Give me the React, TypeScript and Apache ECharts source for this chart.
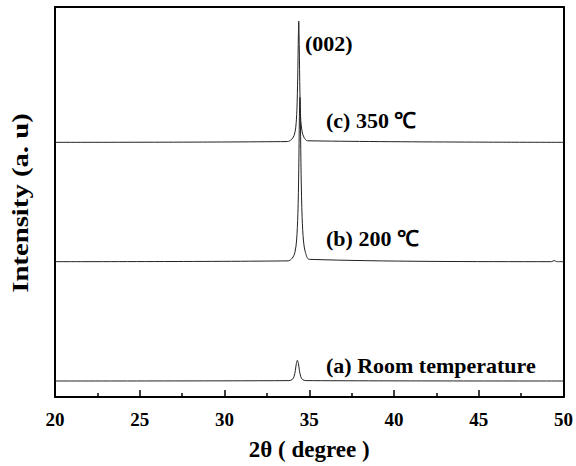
import React, { useEffect, useRef } from "react";
import * as echarts from "echarts";

const xTicks = [20, 25, 30, 35, 40, 45, 50];

const xA = [20, 33.8, 34.0, 34.1, 34.18, 34.24, 34.3, 34.36, 34.42, 34.5, 34.6, 34.8, 50];
const yA = [4.1, 4.2, 4.5, 5.2, 6.8, 8.6, 9.4, 8.6, 6.8, 5.2, 4.5, 4.2, 4.1];

const xB = [20, 33.75, 34.0, 34.15, 34.25, 34.33, 34.38, 34.42, 34.45, 34.48, 34.52, 34.58, 34.66, 34.78, 35.0, 49.3, 49.45, 49.6, 50];
const yB = [34.7, 34.9, 35.6, 37, 40, 47, 58, 72, 76.8, 70, 57, 46, 40, 37, 35.3, 34.7, 35.0, 34.7, 34.7];

const xC = [20, 33.7, 33.95, 34.1, 34.2, 34.27, 34.32, 34.36, 34.38, 34.41, 34.45, 34.5, 34.58, 34.7, 34.9, 50];
const yC = [65.3, 65.5, 66.0, 67.0, 69.0, 73.5, 82, 93, 96.4, 90, 78, 71, 68, 66.5, 65.7, 65.3];

const labels = ["(002)", "(c) 350 ℃", "(b) 200 ℃", "(a) Room temperature"];
const xName = "2θ ( degree )";
const yName = "Intensity (a. u)";

const FONT = "'Liberation Serif', 'Times New Roman', serif";

function pairs(xs: number[], ys: number[]) {
  return xs.map((x, i) => [x, ys[i]]);
}

export default function App() {
  const ref = useRef<HTMLDivElement>(null);
  useEffect(() => {
    if (!ref.current) return;
    const chart = echarts.init(ref.current, null, { renderer: "svg" });
    const lineStyle = { color: "#222", width: 1 };
    const mkSeries = (data: number[][]) => ({
      type: "line",
      data,
      showSymbol: false,
      symbol: "none",
      smooth: 0.3,
      lineStyle,
      xAxisIndex: 0,
      yAxisIndex: 0,
    });
    const ann = (x: number, y: number, text: string) => ({
      type: "text",
      x,
      y,
      style: {
        text,
        font: `bold 22px ${FONT}`,
        fill: "#000",
        align: "left",
        verticalAlign: "middle",
      },
    });
    chart.setOption({
      animation: false,
      backgroundColor: "#fff",
      grid: {
        left: 55,
        right: 12,
        top: 7,
        bottom: 67,
      },
      xAxis: [
        {
          type: "value",
          min: xTicks[0],
          max: xTicks[xTicks.length - 1],
          interval: 5,
          name: xName,
          nameLocation: "middle",
          nameGap: 41,
          nameTextStyle: { fontFamily: FONT, fontWeight: "bold", fontSize: 23, color: "#000" },
          axisLine: { show: true, lineStyle: { color: "#000", width: 2 } },
          axisTick: { show: true, inside: true, length: 7, lineStyle: { color: "#000", width: 1.5 } },
          minorTick: { show: true, splitNumber: 2, length: 4, lineStyle: { color: "#000", width: 1.5 } },
          axisLabel: { fontFamily: FONT, fontWeight: "bold", fontSize: 19, color: "#000", margin: 13 },
          splitLine: { show: false },
        },
        {
          type: "value",
          position: "top",
          min: xTicks[0],
          max: xTicks[xTicks.length - 1],
          axisLine: { show: true, onZero: false, lineStyle: { color: "#000", width: 2 } },
          axisTick: { show: false },
          axisLabel: { show: false },
          splitLine: { show: false },
        },
      ],
      yAxis: [
        {
          type: "value",
          min: 0,
          max: 100,
          axisLine: { show: true, onZero: false, lineStyle: { color: "#000", width: 2 } },
          axisTick: { show: false },
          axisLabel: { show: false },
          splitLine: { show: false },
        },
        {
          type: "value",
          position: "right",
          min: 0,
          max: 100,
          axisLine: { show: true, onZero: false, lineStyle: { color: "#000", width: 2 } },
          axisTick: { show: false },
          axisLabel: { show: false },
          splitLine: { show: false },
        },
      ],
      series: [
        mkSeries(pairs(xA, yA)),
        mkSeries(pairs(xB, yB)),
        mkSeries(pairs(xC, yC)),
      ],
      graphic: [
        ann(305, 43, labels[0]),
        ann(326, 120, labels[1]),
        ann(326, 238, labels[2]),
        ann(326, 365, labels[3]),
        {
          type: "text",
          x: 20,
          y: 203,
          rotation: Math.PI / 2,
          scaleX: 1.25,
          style: {
            text: yName,
            font: `bold 23px ${FONT}`,
            fill: "#000",
            align: "center",
            verticalAlign: "middle",
          },
        },
      ],
    });
    return () => chart.dispose();
  }, []);
  return (
    <div
      ref={ref}
      style={{ position: "absolute", left: 0, top: 0, width: 576, height: 466 }}
    />
  );
}
